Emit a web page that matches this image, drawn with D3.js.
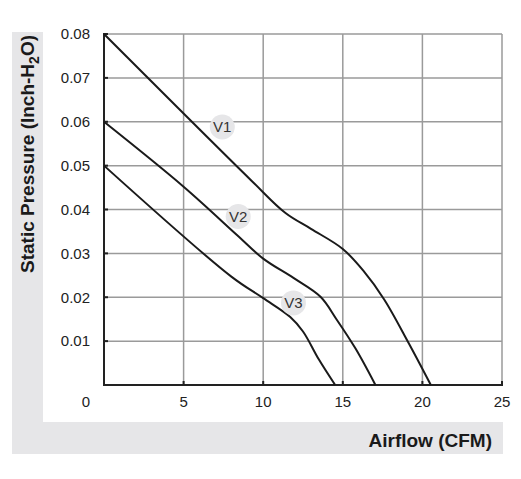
<!DOCTYPE html>
<html>
<head>
<meta charset="utf-8">
<script src="https://cdn.jsdelivr.net/npm/d3@7"></script>
<style>
  body { margin: 0; background: #fff; }
  svg { display: block; font-family: "Liberation Sans", Arial, sans-serif; }
</style>
</head>
<body>
<svg id="chart" width="521" height="479"></svg>
<script>
// fan curves
const seriesNames = ["V1", "V2", "V3"];
const v1Flow = [0, 9.2, 11.4, 13, 15, 16.3, 17.6, 19.1, 20.53];
const v1Pres = [0.08, 0.0468, 0.0392, 0.0356, 0.031, 0.026, 0.0195, 0.0098, 0];
const v2Flow = [0, 5, 8.35, 10, 11.9, 13.6, 14.6, 15.8, 17.05];
const v2Pres = [0.06, 0.0452, 0.0342, 0.0288, 0.0244, 0.0201, 0.015, 0.0083, 0];
const v3Flow = [0, 8, 10, 11.7, 12.5, 13.5, 14.52];
const v3Pres = [0.05, 0.0247, 0.0198, 0.0155, 0.0122, 0.0058, 0];
const labelFlow = [7.43, 8.43, 11.9];
const labelPres = [0.0588, 0.0384, 0.0187];
const xTicks = [0, 5, 10, 15, 20, 25];
const yTicks = [0.01, 0.02, 0.03, 0.04, 0.05, 0.06, 0.07, 0.08];

const svg = d3.select("#chart");

// L-shaped grey band behind the axis titles
svg.append("rect").attr("x", 12).attr("y", 32).attr("width", 31).attr("height", 422).attr("fill", "#e6e6e8");
svg.append("rect").attr("x", 12).attr("y", 422).attr("width", 491).attr("height", 32).attr("fill", "#e6e6e8");

const x = d3.scaleLinear().domain([0, 25]).range([104, 502]);
const y = d3.scaleLinear().domain([0, 0.08]).range([385, 34]);

// grid
const grid = svg.append("g").attr("stroke", "#9a9a9a").attr("stroke-width", 1.5);
grid.selectAll("line.v").data(xTicks.slice(1)).join("line")
  .attr("x1", d => x(d)).attr("x2", d => x(d))
  .attr("y1", y(0)).attr("y2", y(0.08));
grid.selectAll("line.h").data(yTicks).join("line")
  .attr("class", "h")
  .attr("x1", x(0)).attr("x2", x(25))
  .attr("y1", d => y(d)).attr("y2", d => y(d));

// black axes with small inward ticks
const ax = svg.append("g").attr("stroke", "#222").attr("stroke-width", 2);
ax.append("line").attr("x1", x(0)).attr("x2", x(0)).attr("y1", y(0.08) - 1).attr("y2", y(0) + 1);
ax.append("line").attr("x1", x(0) - 1).attr("x2", x(25) + 1).attr("y1", y(0)).attr("y2", y(0));
ax.selectAll("line.xt").data(xTicks.slice(1)).join("line")
  .attr("class", "xt")
  .attr("x1", d => x(d)).attr("x2", d => x(d)).attr("y1", y(0)).attr("y2", y(0) - 4);
ax.selectAll("line.yt").data(yTicks).join("line")
  .attr("class", "yt")
  .attr("x1", x(0)).attr("x2", x(0) + 4).attr("y1", d => y(d)).attr("y2", d => y(d));

// tick labels
svg.append("g").attr("font-size", 15).attr("fill", "#222").attr("text-anchor", "end")
  .selectAll("text").data(yTicks).join("text")
  .attr("x", 90).attr("y", d => y(d)).attr("dy", "0.35em")
  .text(d => d.toFixed(2));
svg.append("g").attr("font-size", 15).attr("fill", "#222").attr("text-anchor", "middle")
  .selectAll("text").data(xTicks).join("text")
  .attr("x", d => d === 0 ? 86 : x(d)).attr("y", 407)
  .text(d => d);

// curves
const series = [
  v1Flow.map((f, i) => [f, v1Pres[i]]),
  v2Flow.map((f, i) => [f, v2Pres[i]]),
  v3Flow.map((f, i) => [f, v3Pres[i]])
];
const line = d3.line().x(d => x(d[0])).y(d => y(d[1])).curve(d3.curveCatmullRom.alpha(0.5));
svg.append("g").attr("fill", "none").attr("stroke", "#1a1a1a").attr("stroke-width", 2)
  .selectAll("path").data(series).join("path").attr("d", line);

// series labels in grey discs
const lab = svg.append("g").selectAll("g").data(seriesNames).join("g")
  .attr("transform", (d, i) => `translate(${x(labelFlow[i])},${y(labelPres[i])})`);
lab.append("circle").attr("r", 12.5).attr("fill", "#e6e6e8");
lab.append("text").attr("text-anchor", "middle").attr("dy", "0.36em")
  .attr("font-size", 15).attr("fill", "#333").text(d => d);

// axis titles
svg.append("text").attr("x", 492).attr("y", 447).attr("text-anchor", "end")
  .attr("font-size", 19).attr("font-weight", "bold").attr("fill", "#1a1a1a")
  .text("Airflow (CFM)");
const yt = svg.append("text").attr("transform", "translate(34,35) rotate(-90)")
  .attr("text-anchor", "end").attr("font-size", 19).attr("font-weight", "bold").attr("fill", "#1a1a1a");
yt.append("tspan").text("Static Pressure (Inch-H");
yt.append("tspan").attr("font-size", 14).attr("dy", 5).text("2");
yt.append("tspan").attr("dy", -5).text("O)");
</script>
</body>
</html>
